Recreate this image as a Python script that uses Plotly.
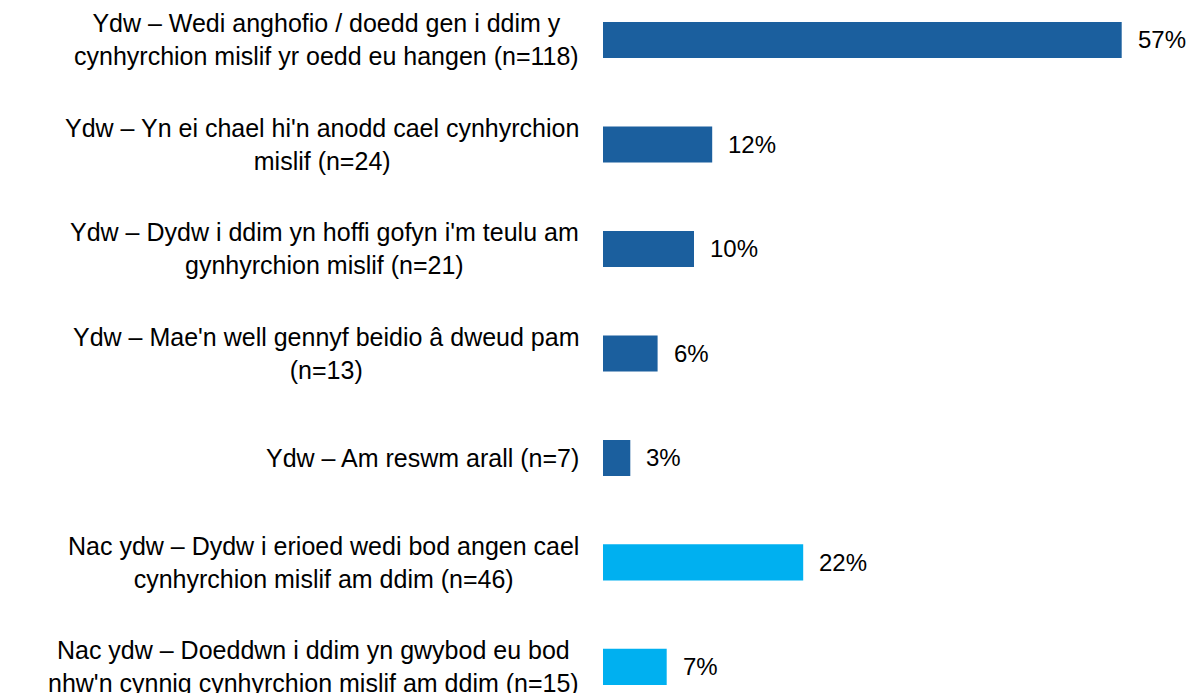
import plotly.graph_objects as go

# --- Data ---
categories = [
    "Ydw – Wedi anghofio / doedd gen i ddim y<br>cynhyrchion mislif yr oedd eu hangen (n=118)",
    "Ydw – Yn ei chael hi'n anodd cael cynhyrchion<br>mislif (n=24)",
    "Ydw – Dydw i ddim yn hoffi gofyn i'm teulu am<br>gynhyrchion mislif (n=21)",
    "Ydw – Mae'n well gennyf beidio â dweud pam<br>(n=13)",
    "Ydw – Am reswm arall (n=7)",
    "Nac ydw – Dydw i erioed wedi bod angen cael<br>cynhyrchion mislif am ddim (n=46)",
    "Nac ydw – Doeddwn i ddim yn gwybod eu bod<br>nhw'n cynnig cynhyrchion mislif am ddim (n=15)",
]
values = [57, 12, 10, 6, 3, 22, 7]
groups = ["Ydw", "Ydw", "Ydw", "Ydw", "Ydw", "Nac ydw", "Nac ydw"]

# --- Style ---
FONT = "Liberation Sans, Arial, sans-serif"
GROUP_COLORS = {"Ydw": "#1B5F9E", "Nac ydw": "#00B0F0"}

positions = list(range(len(categories)))

fig = go.Figure()
fig.add_trace(go.Bar(
    y=positions,
    x=values,
    orientation="h",
    width=0.345,
    marker_color=[GROUP_COLORS[g] for g in groups],
    marker_line_width=0,
    showlegend=False,
    hoverinfo="skip",
))

annotations = []
for pos, label, val in zip(positions, categories, values):
    # category label, centred text with right edge next to the axis
    annotations.append(dict(
        text=label, xref="paper", yref="y", x=0, y=pos,
        xanchor="right", yanchor="middle", xshift=-22, align="center",
        showarrow=False, font=dict(size=25, color="#000000", family=FONT),
    ))
    # value label
    annotations.append(dict(
        text=f"{val}%", xref="x", yref="y", x=val, y=pos,
        xanchor="left", yanchor="middle", xshift=14,
        showarrow=False, font=dict(size=24, color="#000000", family=FONT),
    ))

# page body adds an 8px offset, so the figure is sized to fit the rest
fig.update_layout(
    width=1186,
    height=685,
    margin=dict(l=595, r=45, t=0, b=0),
    paper_bgcolor="#FFFFFF",
    plot_bgcolor="#FFFFFF",
    font=dict(family=FONT, size=25, color="#000000"),
    xaxis=dict(range=[0, 60], visible=False, fixedrange=True),
    yaxis=dict(range=[6.25, -0.306], visible=False, fixedrange=True),
    annotations=annotations,
)

fig.write_html("out.html")
